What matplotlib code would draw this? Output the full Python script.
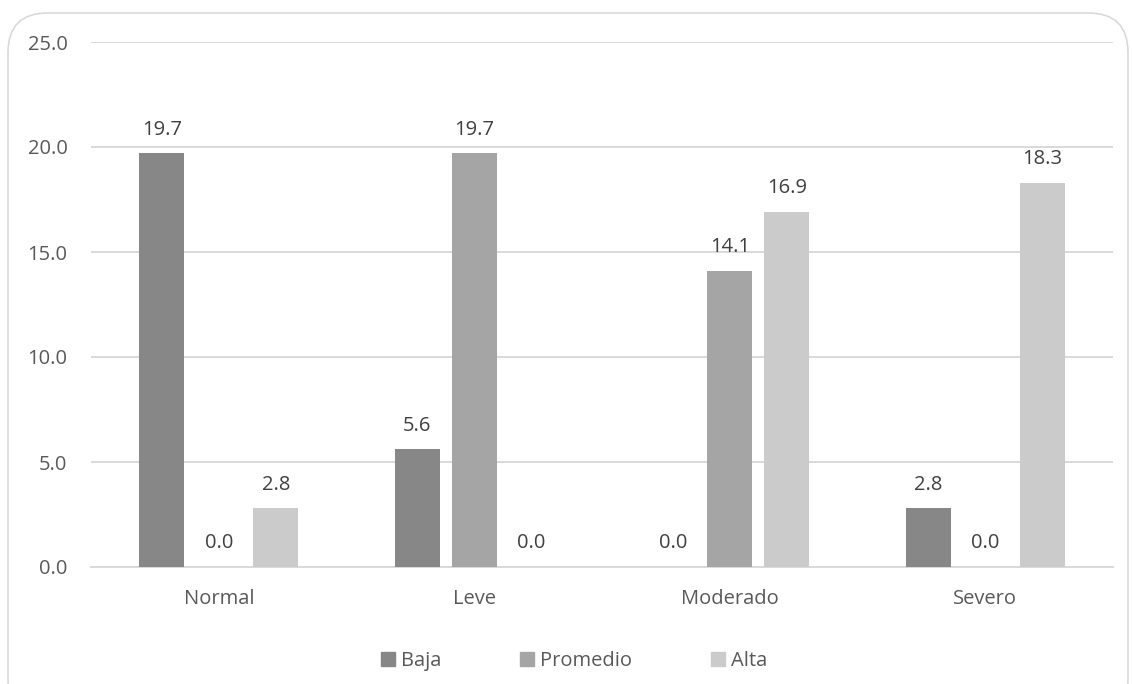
import numpy as np
import matplotlib.pyplot as plt
from matplotlib.patches import FancyBboxPatch, Patch

plt.rcParams['font.family'] = ['Open Sans', 'DejaVu Sans']

categories = ['Normal', 'Leve', 'Moderado', 'Severo']
series = ['Baja', 'Promedio', 'Alta']
baja = [19.7, 5.6, 0.0, 2.8]
promedio = [0.0, 19.7, 14.1, 0.0]
alta = [2.8, 0.0, 16.9, 18.3]
colors = ['#878787', '#a5a5a5', '#cbcbcb']
text_color = '#595959'
fs = 14.5

fig = plt.figure(figsize=(11.32, 6.84), dpi=100)
ax = fig.add_axes([91/1132, 1 - 567/684, 1022/1132, 525/684])

# rounded frame around the chart
frame = FancyBboxPatch((8/1132, -0.05), 1120/1132, 1 - 13/684 + 0.05,
                       boxstyle='round,pad=0,rounding_size=0.035',
                       transform=fig.transFigure, facecolor='none',
                       edgecolor='#d9d9d9', linewidth=1.2, mutation_aspect=1132/684)
fig.patches.append(frame)

x = np.arange(len(categories))
w = 0.176
off = 0.223
for i, (vals, c) in enumerate(zip([baja, promedio, alta], colors)):
    pos = x + (i - 1) * off
    ax.bar(pos, vals, width=w, color=c, zorder=3)
    for p, v in zip(pos, vals):
        ax.text(p, v + 0.65, f'{v:.1f}', ha='center', va='bottom',
                fontsize=fs, color='#404040')

ax.set_xlim(-0.5, 3.5)
ax.set_ylim(0, 25)
ax.set_yticks(np.arange(0, 26, 5))
ax.set_yticklabels([f'{t:.1f}' for t in np.arange(0, 26, 5)])
ax.set_xticks(x)
ax.set_xticklabels(categories)
ax.tick_params(axis='both', length=0, labelsize=fs, colors=text_color)
ax.tick_params(axis='x', pad=16)
ax.tick_params(axis='y', pad=17)
ax.grid(axis='y', color='#d9d9d9', linewidth=1.4, zorder=0)
for s in ['top', 'right', 'left']:
    ax.spines[s].set_visible(False)
ax.spines['bottom'].set_color('#d9d9d9')
ax.spines['bottom'].set_linewidth(1.4)

handles = [Patch(color=c) for c in colors]
fig.legend(handles, series, loc='center', bbox_to_anchor=(0.507, 1 - 661/684),
           ncol=3, frameon=False, fontsize=fs, labelcolor=text_color,
           handlelength=0.7, handleheight=0.7, handletextpad=0.3,
           columnspacing=3.9)

fig.savefig('out.png', dpi=100, facecolor='white')
